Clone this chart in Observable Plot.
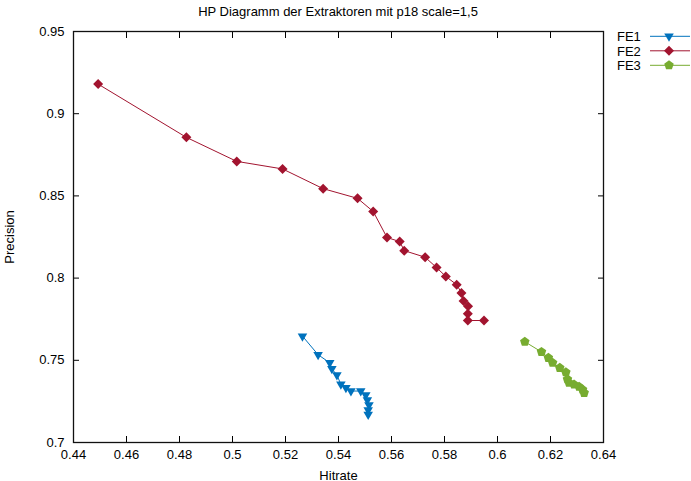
<!DOCTYPE html>
<html>
<head>
<meta charset="utf-8">
<script src="https://cdn.jsdelivr.net/npm/d3@7"></script>
<script src="https://cdn.jsdelivr.net/npm/@observablehq/plot@0.6"></script>
<style>
  html, body { margin: 0; padding: 0; background: #fff; }
  #wrap { position: relative; width: 691px; height: 481px; font-family: "Liberation Sans", Arial, sans-serif; }
  #title { position: absolute; left: 73px; width: 530px; top: 4px; line-height: 15px; font-size: 13px; text-align: center; color: #000; }
  #legend { position: absolute; left: 0; top: 0; pointer-events: none; }
</style>
</head>
<body>
<div id="wrap">
  <div id="chart"></div>
  <div id="title">HP Diagramm der Extraktoren mit p18 scale=1,5</div>
  <svg id="legend" width="691" height="80"></svg>
</div>
<script>
const titleText = "HP Diagramm der Extraktoren mit p18 scale=1,5";
const xLabel = "Hitrate";
const yLabel = "Precision";
const seriesNames = ["FE1", "FE2", "FE3"];
const seriesColors = ["#0072bd", "#a2142f", "#77ac30"];

const xTicks = [0.44, 0.46, 0.48, 0.5, 0.52, 0.54, 0.56, 0.58, 0.6, 0.62, 0.64];
const yTicks = [0.7, 0.75, 0.8, 0.85, 0.9, 0.95];

const fe1Hitrate   = [0.5264, 0.5323, 0.5367, 0.5375, 0.5394, 0.5409, 0.5428, 0.5447, 0.5484, 0.5503, 0.5509, 0.5515, 0.5512, 0.5512];
const fe1Precision = [0.7647, 0.7534, 0.7485, 0.7448, 0.7410, 0.7354, 0.7333, 0.7313, 0.7313, 0.7289, 0.7258, 0.7228, 0.7197, 0.7171];

const fe2Hitrate   = [0.4493, 0.4826, 0.5016, 0.5189, 0.5342, 0.5472, 0.5531, 0.5583, 0.5631, 0.5648, 0.5727, 0.5770, 0.5805, 0.5846, 0.5864, 0.5872, 0.5889, 0.5888, 0.5888, 0.5949];
const fe2Precision = [0.918, 0.8856, 0.871, 0.8664, 0.8544, 0.8485, 0.8405, 0.8247, 0.8222, 0.8167, 0.8127, 0.8064, 0.8010, 0.7960, 0.7910, 0.7861, 0.7829, 0.7783, 0.7742, 0.7742];

const fe3Hitrate   = [0.6103, 0.6166, 0.6192, 0.6208, 0.6235, 0.6258, 0.6264, 0.6270, 0.6289, 0.6308, 0.6321, 0.6327];
const fe3Precision = [0.7613, 0.7551, 0.7515, 0.7485, 0.7454, 0.7427, 0.7385, 0.7363, 0.7353, 0.7339, 0.7322, 0.7302];

// custom symbols (radius r derived from Plot's size = PI r^2)
const triDown = { draw(ctx, size) { const r = Math.sqrt(size / Math.PI);
  ctx.moveTo(0, r); ctx.lineTo(-r * 0.866, -r * 0.5); ctx.lineTo(r * 0.866, -r * 0.5); ctx.closePath(); } };
const diamond = { draw(ctx, size) { const r = Math.sqrt(size / Math.PI);
  ctx.moveTo(0, -r); ctx.lineTo(r, 0); ctx.lineTo(0, r); ctx.lineTo(-r, 0); ctx.closePath(); } };
const pentagon = { draw(ctx, size) { const r = Math.sqrt(size / Math.PI);
  for (let k = 0; k < 5; k++) { const a = -Math.PI / 2 + k * 2 * Math.PI / 5;
    const px = r * Math.cos(a), py = r * Math.sin(a); if (k === 0) ctx.moveTo(px, py); else ctx.lineTo(px, py); }
  ctx.closePath(); } };
const seriesSymbols = [triDown, diamond, pentagon];
const seriesRadius = [5.5, 5, 5];

const seriesData = [
  fe1Hitrate.map((h, i) => ({h, p: fe1Precision[i]})),
  fe2Hitrate.map((h, i) => ({h, p: fe2Precision[i]})),
  fe3Hitrate.map((h, i) => ({h, p: fe3Precision[i]}))
];

const fmt = d => String(+d.toFixed(2));

const marks = [];
seriesData.forEach((data, i) => {
  marks.push(Plot.line(data, {x: "h", y: "p", stroke: seriesColors[i], strokeWidth: 1}));
  marks.push(Plot.dot(data, {x: "h", y: "p", fill: seriesColors[i], stroke: "none", r: seriesRadius[i], symbol: seriesSymbols[i]}));
});

const chart = Plot.plot({
  width: 691,
  height: 481,
  marginLeft: 73,
  marginRight: 88,
  marginTop: 31,
  marginBottom: 39,
  style: {fontFamily: "'Liberation Sans', Arial, sans-serif", fontSize: "13px", color: "#000", background: "#fff", overflow: "visible"},
  x: {domain: [0.44, 0.64]},
  y: {domain: [0.7, 0.95]},
  marks: [
    Plot.axisX(xTicks, {anchor: "bottom", tickSize: 0, tickPadding: 7, tickFormat: fmt, label: xLabel, labelAnchor: "center", labelOffset: 37, labelArrow: "none"}),
    Plot.axisY(yTicks, {anchor: "left", tickSize: 0, tickPadding: 9, tickFormat: fmt, label: yLabel, labelAnchor: "center", labelOffset: 69, labelArrow: "none"}),
    Plot.axisX(xTicks, {anchor: "bottom", tickSize: -6, fill: "none", label: null}),
    Plot.axisX(xTicks, {anchor: "top", tickSize: -6, fill: "none", label: null}),
    Plot.axisY(yTicks, {anchor: "left", tickSize: -6, fill: "none", label: null}),
    Plot.axisY(yTicks, {anchor: "right", tickSize: -6, fill: "none", label: null}),
    ...marks,
    Plot.frame({stroke: "#111", strokeWidth: 1.3})
  ]
});
document.getElementById("chart").appendChild(chart);

// legend
const lg = d3.select("#legend");
const baselines = [41, 55.5, 70];
seriesNames.forEach((name, i) => {
  const yc = baselines[i] - 4.7;
  lg.append("text").attr("x", 617).attr("y", baselines[i])
    .attr("font-family", "'Liberation Sans', Arial, sans-serif").attr("font-size", 13).attr("fill", "#000").text(name);
  lg.append("line").attr("x1", 650).attr("x2", 690).attr("y1", yc).attr("y2", yc)
    .attr("stroke", seriesColors[i]).attr("stroke-width", 1);
  const p = d3.path();
  const r = seriesRadius[i];
  seriesSymbols[i].draw(p, Math.PI * r * r);
  lg.append("path").attr("d", p.toString()).attr("transform", `translate(669,${yc})`).attr("fill", seriesColors[i]);
});
</script>
</body>
</html>
